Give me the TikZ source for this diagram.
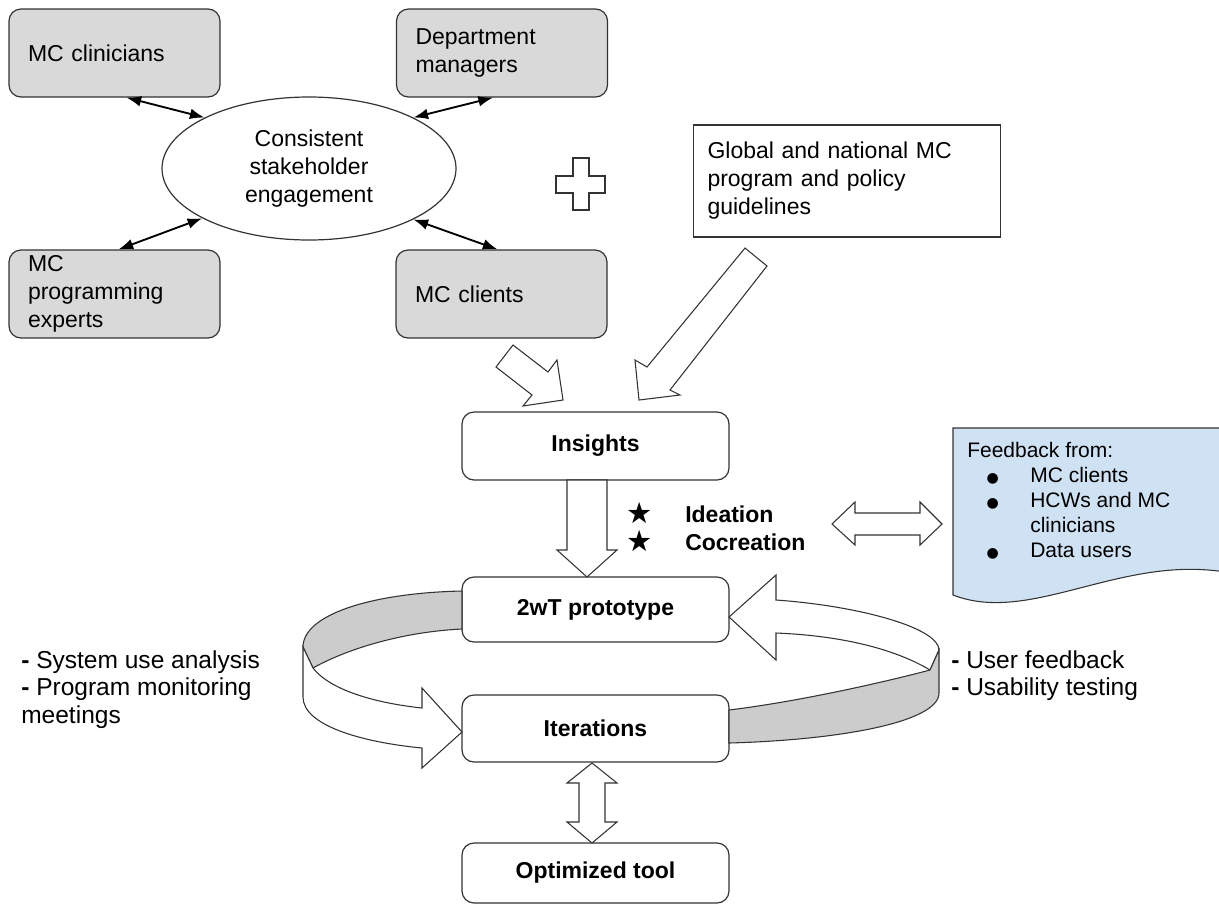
\documentclass[tikz,border=0pt]{standalone}
\usepackage{fontspec}
\setmainfont{Liberation Sans}
\newfontfamily\symfont{DejaVu Sans}
\usetikzlibrary{arrows.meta,calc,shapes.geometric}
\definecolor{boxgray}{HTML}{D9D9D9}
\definecolor{bandgray}{HTML}{CCCCCC}
\definecolor{docblue}{HTML}{CFE2F3}
\definecolor{edge}{HTML}{333333}
\newcommand\mainsize{\fontsize{17.25}{21}\selectfont}
\newcommand\sidesize{\fontsize{18.4}{20.6}\selectfont}
\newcommand\fbsize{\fontsize{15.75}{18.75}\selectfont}
\newcommand\fbdot{\makebox[47.25pt][l]{\hspace{14.5pt}{\symfont\fontsize{10.5}{10.5}\selectfont ●}}}
\tikzset{
  stake/.style={draw=edge, fill=boxgray, rounded corners=9pt, line width=0.9pt,
    minimum width=158.25pt, minimum height=66pt, text width=129.75pt,
    inner xsep=14.25pt, align=left, font=\mainsize},
  stage/.style={draw=edge, fill=white, rounded corners=9pt, line width=0.9pt,
    minimum width=200.25pt, font=\mainsize\bfseries},
  link/.style={{Latex[length=11pt,width=8pt]}-{Latex[length=11pt,width=8pt]}, line width=1.4pt},
  blockarr/.style={draw=edge, fill=white, line width=0.8pt},
  band/.style={draw=edge, fill=bandgray, line width=0.8pt},
  starmark/.style={font=\symfont\fontsize{22}{22}\selectfont, inner sep=0}
}
\begin{document}
\begin{tikzpicture}[x=0.75pt,y=-0.75pt]
\useasboundingbox (0,0) rectangle (1219,911);
% stakeholders
\node[stake] (clin) at (114.5,53) {MC clinicians};
\node[stake] (dept) at (502,53) {Department\\managers};
\node[stake] (expt) at (114.5,294) {MC\\programming\\experts};
\node[stake] (clnt) at (501.5,294) {MC clients};
\node[ellipse, draw=edge, line width=0.9pt, minimum width=220.5pt, minimum height=107.25pt,
  inner sep=0, align=center, font=\mainsize] (eng) at (309,168.5)
  {Consistent\\stakeholder\\engagement};
%
\draw[link] ($(clin.south)+(12,0)$) -- (eng.154);
\draw[link] ($(dept.south)+(-9,0)$) -- (eng.26);
\draw[link] ($(expt.north)+(4,0)$) -- (eng.205);
\draw[link] ($(clnt.north)+(-4,0)$) -- (eng.334);
%
\draw[blockarr] (556,176) -- (573,176) -- (573,158) -- (589,158) -- (589,176) -- (605,176)
  -- (605,193) -- (589,193) -- (589,210) -- (573,210) -- (573,193) -- (556,193) -- cycle;
\node[draw=edge, line width=0.9pt, minimum width=230.25pt, minimum height=84pt,
  text width=209.25pt, inner xsep=10.5pt, align=left, font=\mainsize] (glob) at (847,181)
  {Global and national MC\\program and policy\\guidelines};
%
% stages
\node[stage, minimum height=51pt] (ins) at (595.5,446) {Insights};
\node[stage, minimum height=48.75pt] (proto) at (595.5,609.5) {2wT prototype};
\node[stage, minimum height=50.25pt] (iter) at (595.5,728.5) {Iterations};
\node[stage, minimum height=45pt] (opt) at (595.5,873) {Optimized tool};
%
\draw[blockarr] (513,345) -- (548,372) -- (557,360) -- (563,400) -- (523,406) -- (532,395) -- (496,367) -- cycle;
\draw[blockarr] (745,248) -- (767,266) -- (670,390) -- (680,395) -- (639,400) -- (635,360) -- (647,367) -- cycle;
\draw[blockarr] (567,480) -- (607,480) -- (607,550) -- (617,550) -- (587,577) -- (557,550) -- (567,550) -- cycle;
\draw[blockarr] (592,763) -- (617,783) -- (605,783) -- (605,822) -- (617,822) -- (592,843)
  -- (567,822) -- (579,822) -- (579,783) -- (567,783) -- cycle;
%
\node[starmark] (st1) at (640,513) {★};
\node[starmark] (st2) at (640,541) {★};
\node[anchor=west, inner sep=0, font=\mainsize\bfseries] (idea) at (685,514) {Ideation};
\node[anchor=west, inner sep=0, font=\mainsize\bfseries] (cocr) at (685,542) {Cocreation};
\draw[blockarr] (832,524) -- (855,502) -- (855,513) -- (920,513) -- (920,502) -- (942,524)
  -- (920,545) -- (920,535) -- (855,535) -- (855,545) -- cycle;
%
% feedback sheet
\draw[draw=edge, fill=docblue, line width=0.8pt] (1225,572) -- (1225,428) -- (953,428) -- (953,595)
  .. controls (1030,625) and (1120,555) .. (1225,572);
\node[anchor=north west, inner sep=0, align=left, font=\fbsize] (fb) at (967,442)
  {Feedback from:\\
   \fbdot MC clients\\
   \fbdot HCWs and MC\\
   \hspace*{47.25pt}clinicians\\
   \fbdot Data users};
%
% loop arrows
\draw[band] (462,591) .. controls (370,593) and (303,615) .. (303,647) -- (313,668)
  .. controls (345,650) and (400,632) .. (462,629) -- cycle;
\draw[blockarr] (303,647) -- (303,697) .. controls (303,725) and (360,742) .. (422,748)
  -- (422,768) -- (462,732) -- (422,688) -- (422,708)
  .. controls (375,703) and (330,690) .. (313,668) -- cycle;
\draw[blockarr] (729,617) -- (776,575) -- (776,600) .. controls (860,606) and (939,628) .. (939,650)
  -- (930,670) .. controls (900,652) and (850,636) .. (776,633) -- (776,660) -- cycle;
\draw[band] (939,650) -- (939,693) .. controls (939,722) and (840,740) .. (729,743)
  -- (729,710) .. controls (810,700) and (900,678) .. (930,670) -- cycle;
%
\node[anchor=west, inner sep=0, align=left, font=\sidesize] (sysu) at (21,689.5)
  {\textbf{-} System use analysis\\\textbf{-} Program monitoring\\meetings};
\node[anchor=west, inner sep=0, align=left, font=\sidesize] (usr) at (951,675.5)
  {\textbf{-} User feedback\\\textbf{-} Usability testing};
\end{tikzpicture}
\end{document}
